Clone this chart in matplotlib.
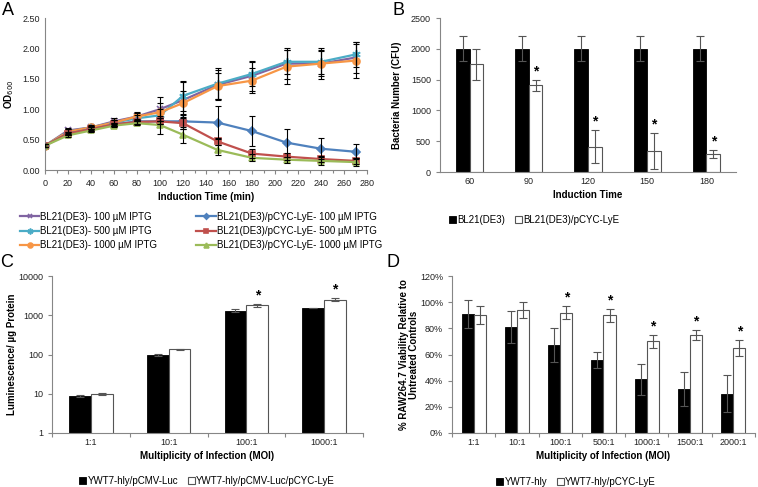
import matplotlib
matplotlib.use('Agg')
import matplotlib.pyplot as plt
import numpy as np

plt.rcParams['font.family'] = ['Liberation Sans', 'DejaVu Sans']

# ---- panel A data ----
time_min = [0, 20, 40, 60, 80, 100, 120, 150, 180, 210, 240, 270]
a_labels = ['BL21(DE3)- 100 µM IPTG', 'BL21(DE3)- 500 µM IPTG', 'BL21(DE3)- 1000 µM IPTG',
            'BL21(DE3)/pCYC-LyE- 100 µM IPTG', 'BL21(DE3)/pCYC-LyE- 500 µM IPTG',
            'BL21(DE3)/pCYC-LyE- 1000 µM IPTG']
bl21_100 = [0.40, 0.65, 0.70, 0.80, 0.88, 1.00, 1.15, 1.40, 1.55, 1.75, 1.75, 1.85]
bl21_500 = [0.40, 0.63, 0.70, 0.78, 0.85, 0.90, 1.22, 1.42, 1.58, 1.78, 1.78, 1.90]
bl21_1000 = [0.40, 0.63, 0.70, 0.78, 0.88, 0.95, 1.10, 1.38, 1.47, 1.70, 1.75, 1.80]
lye_100 = [0.40, 0.60, 0.67, 0.75, 0.80, 0.80, 0.80, 0.78, 0.64, 0.45, 0.35, 0.30]
lye_500 = [0.40, 0.60, 0.67, 0.75, 0.79, 0.80, 0.77, 0.47, 0.27, 0.22, 0.18, 0.15]
lye_1000 = [0.40, 0.57, 0.65, 0.73, 0.77, 0.74, 0.58, 0.33, 0.20, 0.17, 0.15, 0.13]
bl21_100_err = [0.02, 0.04, 0.03, 0.05, 0.06, 0.20, 0.30, 0.25, 0.25, 0.25, 0.25, 0.25]
bl21_500_err = [0.02, 0.04, 0.03, 0.04, 0.05, 0.10, 0.25, 0.25, 0.20, 0.20, 0.20, 0.20]
bl21_1000_err = [0.02, 0.05, 0.04, 0.05, 0.08, 0.15, 0.20, 0.22, 0.20, 0.28, 0.20, 0.28]
lye_100_err = [0.02, 0.03, 0.03, 0.03, 0.04, 0.05, 0.12, 0.27, 0.24, 0.23, 0.17, 0.12]
lye_500_err = [0.02, 0.03, 0.03, 0.03, 0.03, 0.05, 0.10, 0.06, 0.08, 0.06, 0.05, 0.05]
lye_1000_err = [0.02, 0.03, 0.03, 0.03, 0.03, 0.15, 0.13, 0.08, 0.06, 0.05, 0.07, 0.06]

# ---- panel B data ----
b_times = ['60', '90', '120', '150', '180']
b_ctrl = [2000, 2000, 2000, 2000, 2000]
b_ctrl_err = [200, 200, 200, 200, 200]
b_lye = [1750, 1410, 410, 340, 290]
b_lye_err = [250, 90, 270, 290, 70]
b_star = [False, True, True, True, True]

# ---- panel C data ----
c_moi = ['1:1', '10:1', '100:1', '1000:1']
c_luc = [9, 95, 1300, 1550]
c_luc_err = [0.5, 6, 110, 0]
c_lye = [10, 135, 1800, 2500]
c_lye_err = [0.7, 4, 130, 200]
c_star = [False, False, True, True]

# ---- panel D data ----
d_moi = ['1:1', '10:1', '100:1', '500:1', '1000:1', '1500:1', '2000:1']
d_hly = [0.91, 0.81, 0.67, 0.56, 0.41, 0.34, 0.30]
d_hly_err = [0.11, 0.12, 0.13, 0.06, 0.12, 0.13, 0.14]
d_lye = [0.90, 0.94, 0.92, 0.90, 0.70, 0.75, 0.65]
d_lye_err = [0.07, 0.06, 0.05, 0.05, 0.05, 0.04, 0.06]
d_star = [False, False, True, True, True, True, True]

W, H = 758, 487
fig = plt.figure(figsize=(W / 100, H / 100), dpi=100)

spine_col = '#868686'
txt_col = '#222222'
tick_fs = 6.5
lab_fs = 7


def px_axes(l, t, r, b):
    return fig.add_axes([l / W, 1 - b / H, (r - l) / W, (b - t) / H])


def style(ax):
    for s in ['top', 'right']:
        ax.spines[s].set_visible(False)
    for s in ['left', 'bottom']:
        ax.spines[s].set_color(spine_col)
        ax.spines[s].set_linewidth(0.8)
    ax.tick_params(colors=spine_col, labelcolor=txt_col, labelsize=tick_fs, width=0.8, length=3)


# ---------------- A ----------------
axA = px_axes(45, 18, 367, 170)
style(axA)
series = [bl21_100, bl21_500, bl21_1000, lye_100, lye_500, lye_1000]
errs = [bl21_100_err, bl21_500_err, bl21_1000_err, lye_100_err, lye_500_err, lye_1000_err]
colors = ['#8064A2', '#4BACC6', '#F79646', '#4F81BD', '#C0504D', '#9BBB59']
markers = ['x', (6, 2, 0), 'o', 'D', 's', '^']
msizes = [5, 6, 5, 4, 5, 5]
handles = []
for ys, es, c, m, ms, lab in zip(series, errs, colors, markers, msizes, a_labels):
    axA.errorbar(time_min, ys, yerr=es, fmt='none', ecolor='black', elinewidth=0.8,
                 capsize=2, capthick=0.8, zorder=3)
    h, = axA.plot(time_min, ys, color=c, lw=1.6, marker=m, ms=ms, mew=1.2,
                  mec=c, mfc=c, label=lab, zorder=2)
    handles.append(h)
axA.set_xlim(0, 280)
axA.set_ylim(0, 2.5)
axA.set_xticks(np.arange(0, 281, 20))
axA.set_xticks(np.arange(0, 281, 10), minor=True)
axA.tick_params(axis='x', which='minor', length=2, color=spine_col, width=0.8)
axA.set_yticks(np.arange(0, 2.51, 0.5))
axA.set_yticklabels(['%.2f' % v for v in np.arange(0, 2.51, 0.5)])
axA.tick_params(axis='y', length=0)
axA.set_ylabel('OD$_{600}$', fontsize=lab_fs, fontweight='bold')
axA.yaxis.set_label_coords(-0.09, 0.5)
axA.set_xlabel('Induction Time (min)', fontsize=lab_fs, fontweight='bold', labelpad=3)
fig.legend(handles=handles, ncol=2, loc='center left', bbox_to_anchor=(20 / W, 1 - 231 / H),
           frameon=False, fontsize=7, handlelength=2.0, handletextpad=0.1, markerscale=0.7,
           columnspacing=4.0, labelspacing=0.45, borderpad=0, borderaxespad=0)


def bar_panel(ax, cats, v1, e1, v2, e2, stars, width):
    x = np.arange(len(cats))
    ax.bar(x - width / 2, v1, width, color='black', edgecolor='black', lw=0.6, zorder=2)
    ax.bar(x + width / 2, v2, width, color='white', edgecolor='#555555', lw=0.8, zorder=2)
    ax.errorbar(x - width / 2, v1, yerr=e1, fmt='none', ecolor='#555555', elinewidth=0.8,
                capsize=3, capthick=0.8, zorder=3)
    ax.errorbar(x + width / 2, v2, yerr=e2, fmt='none', ecolor='#555555', elinewidth=0.8,
                capsize=3, capthick=0.8, zorder=3)
    for xi, v, e, s in zip(x, v2, e2, stars):
        if s:
            ax.annotate('*', (xi + width / 2, v + e), xytext=(0, 1), textcoords='offset points',
                        ha='center', va='bottom', fontsize=10, fontweight='bold')
    ax.set_xlim(-0.5, len(cats) - 0.5)
    ax.set_xticks(x)
    ax.set_xticklabels(cats)
    return x


def legend_below(ax, labels, cx, cy):
    from matplotlib.patches import Patch
    hs = [Patch(facecolor='black', edgecolor='black', lw=0.6),
          Patch(facecolor='white', edgecolor='#555555', lw=0.8)]
    fig.legend(handles=hs, labels=labels, ncol=2, loc='center', bbox_to_anchor=(cx / W, 1 - cy / H),
               frameon=False, fontsize=7, handlelength=0.7, handleheight=0.7,
               handletextpad=0.15, columnspacing=1.0, borderpad=0, borderaxespad=0)


# ---------------- B ----------------
axB = px_axes(440, 18, 736, 172)
style(axB)
bar_panel(axB, b_times, b_ctrl, b_ctrl_err, b_lye, b_lye_err, b_star, 0.23)
axB.set_ylim(0, 2500)
axB.set_yticks(np.arange(0, 2501, 500))
axB.tick_params(axis='x', length=0)
axB.set_ylabel('Bacteria Number (CFU)', fontsize=lab_fs, fontweight='bold')
axB.yaxis.set_label_coords(-0.128, 0.5)
axB.set_xlabel('Induction Time', fontsize=lab_fs, fontweight='bold', labelpad=3)
legend_below(axB, ['BL21(DE3)', 'BL21(DE3)/pCYC-LyE'], 534, 220)

# ---------------- C ----------------
axC = px_axes(52, 276, 363, 433)
style(axC)
axC.set_yscale('log')
bar_panel(axC, c_moi, c_luc, c_luc_err, c_lye, c_lye_err, c_star, 0.28)
axC.set_ylim(1, 10000)
axC.set_yticks([1, 10, 100, 1000, 10000])
axC.set_yticklabels(['1', '10', '100', '1000', '10000'])
axC.yaxis.set_minor_locator(matplotlib.ticker.NullLocator())
axC.set_xticks(np.arange(len(c_moi) + 1) - 0.5, minor=True)
axC.tick_params(axis='x', which='major', length=0)
axC.tick_params(axis='x', which='minor', length=3, color=spine_col, width=0.8)
axC.set_ylabel('Luminescence/ µg Protein', fontsize=lab_fs, fontweight='bold')
axC.yaxis.set_label_coords(-0.113, 0.5)
axC.set_xlabel('Multiplicity of Infection (MOI)', fontsize=lab_fs, fontweight='bold', labelpad=3)
legend_below(axC, ['YWT7-hly/pCMV-Luc', 'YWT7-hly/pCMV-Luc/pCYC-LyE'], 207, 481)

# ---------------- D ----------------
axD = px_axes(452, 276, 755, 433)
style(axD)
bar_panel(axD, d_moi, d_hly, d_hly_err, d_lye, d_lye_err, d_star, 0.28)
axD.set_ylim(0, 1.2)
axD.set_yticks(np.arange(0, 1.21, 0.2))
axD.set_yticklabels(['%d%%' % round(v * 100) for v in np.arange(0, 1.21, 0.2)])
axD.set_xticks(np.arange(len(d_moi) + 1) - 0.5, minor=True)
axD.tick_params(axis='x', which='major', length=0)
axD.tick_params(axis='x', which='minor', length=3, color=spine_col, width=0.8)
axD.set_ylabel('% RAW264.7 Viability Relative to\nUntreated Controls', fontsize=lab_fs,
               fontweight='bold', linespacing=1.05)
axD.yaxis.set_label_coords(-0.108, 0.5)
axD.set_xlabel('Multiplicity of Infection (MOI)', fontsize=lab_fs, fontweight='bold', labelpad=3)
legend_below(axD, ['YWT7-hly', 'YWT7-hly/pCYC-LyE'], 576, 482)

# panel letters
for lbl, x, y in [('A', 2, 2), ('B', 392, 2), ('C', 0, 254), ('D', 386, 254)]:
    fig.text(x / W, 1 - y / H, lbl, fontsize=13, ha='left', va='top')

fig.savefig('out.png', dpi=100)
